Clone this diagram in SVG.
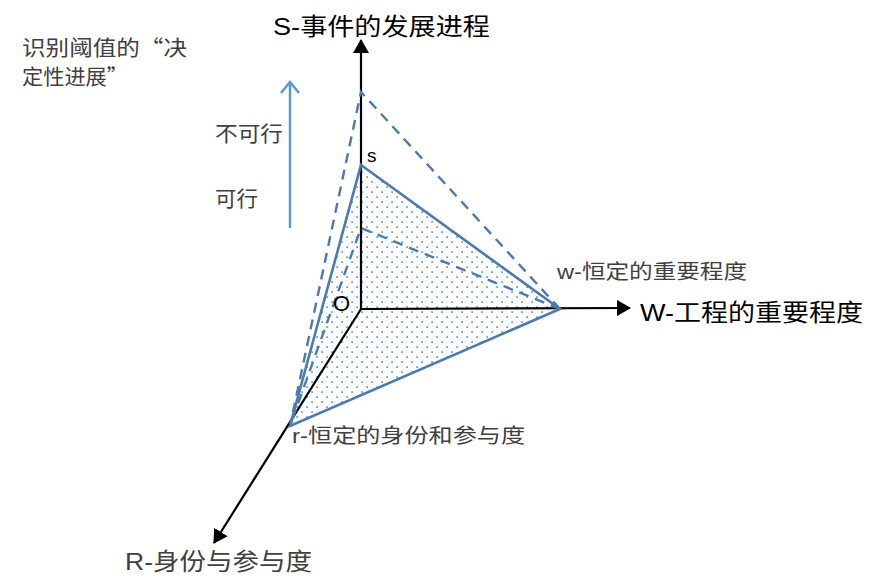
<svg xmlns="http://www.w3.org/2000/svg" width="874" height="577" viewBox="0 0 874 577">
<style>
.cjk{font-family:"Liberation Sans","Noto Sans CJK SC",sans-serif}
.q{font-family:"Noto Sans CJK SC",sans-serif}
.gray{fill:#404040}
.ax{stroke:#000;stroke-width:2.2;fill:none}
.tri{stroke:#4a7ab0;stroke-width:2.6}
.dash{stroke:#4a7ab0;stroke-width:2.4;stroke-dasharray:10 7;fill:none}
</style>
<defs>
<pattern id="dots" width="10" height="10" patternUnits="userSpaceOnUse">
<rect x="1.2" y="1.2" width="1.8" height="1.8" fill="#6fa3dc"/>
<rect x="6.2" y="6.2" width="1.8" height="1.8" fill="#6fa3dc"/>
</pattern>
<marker id="ah" viewBox="0 0 14 16" refX="13" refY="8" markerWidth="14" markerHeight="16" orient="auto" markerUnits="userSpaceOnUse">
<path d="M0,0 L14,8 L0,16 z" fill="#000"/>
</marker>
<marker id="bh" viewBox="0 0 14 22" refX="12" refY="11" markerWidth="14" markerHeight="22" orient="auto" markerUnits="userSpaceOnUse">
<path d="M1,2 L12,11 L1,20" fill="none" stroke="#5b9bd5" stroke-width="2.5"/>
</marker>
</defs>
<g id="fill">
<polygon points="361,165 560,309 290,426" fill="url(#dots)" stroke="none"/>
</g>
<g id="connectors">
<line class="ax" x1="361" y1="309" x2="361" y2="40" marker-end="url(#ah)"/>
<line class="ax" x1="361" y1="309" x2="630" y2="308" marker-end="url(#ah)"/>
<line class="ax" x1="361" y1="309" x2="214" y2="543" marker-end="url(#ah)"/>
<polygon class="tri" points="361,165 560,309 290,426" fill="none"/>
<polyline class="dash" points="560,309 361,92 290,426"/>
<polyline class="dash" points="560,309 361,228 290,426"/>
<line x1="290" y1="228" x2="290" y2="82" stroke="#5b9bd5" stroke-width="2.5" marker-end="url(#bh)"/>
</g>
<g id="labels" class="cjk">
<text x="22" y="55" font-size="21" class="gray" textLength="165" lengthAdjust="spacingAndGlyphs">识别阈值的<tspan class="q">“</tspan>决</text>
<text x="22" y="84" font-size="21" class="gray" textLength="106" lengthAdjust="spacingAndGlyphs">定性进展<tspan class="q">”</tspan></text>
<text x="273" y="35" font-size="24" fill="#000" textLength="217" lengthAdjust="spacingAndGlyphs">S-事件的发展进程</text>
<text x="215" y="141" font-size="21" class="gray" textLength="68" lengthAdjust="spacingAndGlyphs">不可行</text>
<text x="215" y="206" font-size="21" class="gray" textLength="43" lengthAdjust="spacingAndGlyphs">可行</text>
<text x="367" y="162" font-size="19" fill="#000">s</text>
<text x="333" y="311" font-size="22" fill="#000">O</text>
<text x="557" y="279" font-size="20" class="gray" textLength="190" lengthAdjust="spacingAndGlyphs">w-恒定的重要程度</text>
<text x="640" y="321" font-size="24" fill="#000" textLength="223" lengthAdjust="spacingAndGlyphs">W-工程的重要程度</text>
<text x="292" y="443" font-size="20" class="gray" textLength="233" lengthAdjust="spacingAndGlyphs">r-恒定的身份和参与度</text>
<text x="125" y="570" font-size="24" class="gray" textLength="187" lengthAdjust="spacingAndGlyphs">R-身份与参与度</text>
</g>
</svg>
